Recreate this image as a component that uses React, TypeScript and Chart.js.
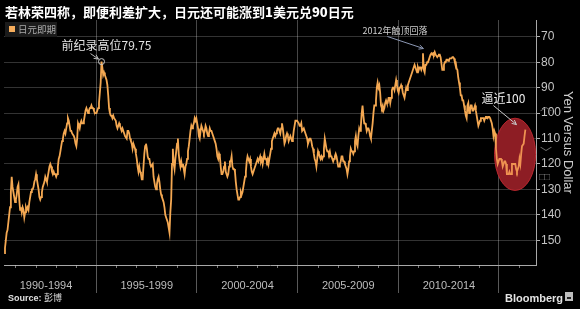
import React, { useEffect, useRef } from 'react';
import { Chart, registerables } from 'chart.js';

Chart.register(...registerables);

// ---------- data ----------
const firstYear = 1990;
const firstMonth = 6; // June 1990
// USD/JPY spot (yen per dollar), two readings per month (early / late), Jun 1990 - Apr 2016
const yenSpot: number[] = [
  // 1990 Jun-Dec
  155, 153, 150, 147, 146, 143, 140, 137, 131, 125, 129, 131, 133, 135,
  // 1991
  134, 132, 129, 128, 134, 138, 137, 139, 137, 138, 141, 139,
  137, 138, 137, 138, 135, 133, 131, 130, 130, 129, 127, 126,
  // 1992
  124, 126, 128, 130, 133, 134, 133, 131, 129, 128, 127, 125,
  126, 127, 125, 123, 121, 120, 121, 123, 124, 123, 124, 124,
  // 1993
  125, 124, 121, 118, 117, 115, 113, 111, 110, 108, 107, 108,
  106, 104, 102, 103, 105, 107, 107, 108, 108, 109, 110, 112,
  // 1994
  113, 110, 104, 105, 106, 104, 103, 104, 104, 103, 101, 99,
  98, 99, 100, 99, 98, 98, 97, 98, 98, 99, 100, 100,
  // 1995
  100, 99, 98, 96, 92, 88, 79.75, 82, 85, 84, 85, 86,
  87, 89, 93, 98, 100, 101, 101, 102, 101, 102, 102, 103,
  // 1996
  105, 106, 105, 104, 105, 106, 107, 106, 107, 108, 109, 109,
  110, 107, 107, 108, 110, 111, 112, 114, 112, 113, 114, 116,
  // 1997
  118, 121, 123, 121, 123, 124, 126, 126, 121, 116, 113, 112,
  114, 117, 118, 118, 120, 121, 121, 120, 125, 127, 129, 130,
  // 1998
  128, 126, 125, 127, 130, 132, 133, 134, 135, 137, 140, 141,
  141, 143, 145, 147, 139, 134, 120, 114, 120, 122, 118, 115,
  // 1999
  112, 110, 116, 119, 121, 119, 121, 120, 122, 124, 121, 120,
  118, 115, 113, 110, 107, 105, 106, 105, 104, 102, 103, 102,
  // 2000
  104, 106, 109, 110, 107, 105, 106, 107, 108, 107, 105, 106,
  108, 109, 108, 106, 107, 107, 108, 109, 109, 111, 112, 114,
  // 2001
  117, 118, 116, 117, 121, 124, 124, 123, 121, 119, 123, 124,
  125, 124, 121, 119, 119, 117, 121, 122, 122, 123, 127, 130,
  // 2002
  132, 134, 134, 133, 131, 132, 131, 129, 127, 125, 123, 119,
  117, 118, 119, 118, 121, 123, 124, 123, 122, 121, 121, 119,
  // 2003
  118, 119, 118, 117, 119, 118, 120, 118, 116, 118, 118, 119,
  118, 120, 118, 116, 114, 111, 110, 109, 108, 109, 108, 107,
  // 2004
  106, 106, 107, 108, 106, 104, 106, 109, 112, 111, 109, 108,
  109, 111, 110, 109, 110, 111, 110, 107, 105, 103, 103, 103,
  // 2005
  103, 104, 105, 105, 104, 107, 107, 106, 107, 108, 109, 110,
  112, 111, 110, 110, 111, 113, 114, 116, 118, 119, 121, 118,
  // 2006
  115, 116, 117, 118, 117, 118, 117, 114, 110, 112, 114, 115,
  115, 116, 115, 117, 117, 118, 119, 118, 117, 116, 117, 119,
  // 2007
  121, 121, 120, 119, 117, 117, 119, 119, 120, 121, 122, 124,
  122, 119, 117, 114, 115, 115, 116, 115, 111, 109, 112, 113,
  // 2008
  109, 106, 107, 105, 100, 97, 101, 104, 104, 105, 107, 106,
  106, 107, 109, 110, 107, 104, 100, 97, 97, 95, 90, 88,
  // 2009
  90, 89, 92, 97, 98, 97, 99, 98, 96, 95, 96, 96,
  94, 94, 96, 94, 91, 90, 90, 91, 89, 87, 89, 91,
  // 2010
  92, 90, 90, 89, 90, 92, 93, 94, 92, 90, 91, 89,
  88, 87, 86, 85, 84, 84, 82, 81, 82, 83, 84, 82,
  // 2011
  83, 82, 82, 83, 82, 76.5, 83, 84, 81, 81, 80, 80,
  80, 78, 77, 76.5, 77, 76.5, 77, 76, 77, 77.5, 78, 77.5,
  // 2012
  77, 77, 78, 80.5, 83, 83, 81, 80, 80, 79, 79, 79.5,
  79, 78.5, 78.5, 78.5, 78, 78, 78.5, 80, 80, 82.5, 83, 86,
  // 2013
  88, 90, 93, 93, 95, 95, 97, 99, 101, 102, 97, 96,
  100, 99, 97, 97, 99, 99, 98, 97, 99, 101, 103, 105,
  // 2014
  104, 103, 102, 102, 102, 102, 103, 102, 101.5, 101.5, 102, 101.5,
  101.5, 102, 102, 104, 106, 109, 107, 108, 114, 118, 120, 119,
  // 2015
  118, 118, 118, 119, 121, 120, 119, 119, 120, 124, 124, 124,
  123, 124, 124, 120, 120, 120, 120, 120, 122, 123, 122, 121,
  // 2016 Jan-Apr
  118, 120, 116, 113, 113, 112, 109, 106.5,
];

const bandEdges = [1995, 2000, 2005, 2010, 2015];
const bandLabels = ['1990-1994', '1995-1999', '2000-2004', '2005-2009', '2010-2014'];
const minorTickYears = [1991, 1992, 1993, 1994, 1996, 1997, 1998, 1999, 2001, 2002, 2003, 2004, 2006, 2007, 2008, 2009, 2011, 2012, 2013, 2014, 2016];
const yTickValues = [70, 80, 90, 100, 110, 120, 130, 140, 150];

const recordHigh = { x: 1995 + 3.25 / 12, y: 79.75 };
const top2012 = { x: 2011.3, y: 75 };
const near100 = { x: 2015.87, y: 104.5 };
const focusZone = { x: 2015.8, y: 116.2, dx: 1.02, dy: 14.2 };

const titleMain = '若林荣四称，即便利差扩大，日元还可能涨到';
const titleTail = ['1', '美元兑', '90', '日元'];

const CJK = '"Noto Sans CJK SC", "Noto Sans", sans-serif';
const LATIN = '"Liberation Sans", Arial, sans-serif';

function arrow(ctx: CanvasRenderingContext2D, x1: number, y1: number, x2: number, y2: number, color: string) {
  ctx.strokeStyle = color;
  ctx.lineWidth = 1;
  ctx.beginPath();
  ctx.moveTo(x1, y1);
  ctx.lineTo(x2, y2);
  ctx.stroke();
  const a = Math.atan2(y2 - y1, x2 - x1);
  const h = 5;
  ctx.beginPath();
  ctx.moveTo(x2 - h * Math.cos(a - 0.45), y2 - h * Math.sin(a - 0.45));
  ctx.lineTo(x2, y2);
  ctx.lineTo(x2 - h * Math.cos(a + 0.45), y2 - h * Math.sin(a + 0.45));
  ctx.stroke();
}

function zoneGeom(chart: any) {
  const xs = chart.scales.x, ys = chart.scales.y;
  const cx = xs.getPixelForValue(focusZone.x);
  const cy = ys.getPixelForValue(focusZone.y);
  const rx = Math.abs(xs.getPixelForValue(focusZone.x + focusZone.dx) - cx);
  const ry = Math.abs(ys.getPixelForValue(focusZone.y + focusZone.dy) - cy);
  return { cx, cy, rx, ry };
}

const decorPlugin = {
  id: 'decor',
  beforeDatasetsDraw(chart: any) {
    const { ctx } = chart;
    const { cx, cy, rx, ry } = zoneGeom(chart);
    ctx.save();
    ctx.fillStyle = 'rgb(122, 22, 26)';
    ctx.beginPath();
    ctx.ellipse(cx, cy, rx, ry, 0, 0, Math.PI * 2);
    ctx.fill();
    ctx.strokeStyle = 'rgba(190, 40, 45, 0.9)';
    ctx.lineWidth = 1;
    ctx.stroke();
    ctx.restore();
  },
  afterDatasetsDraw(chart: any) {
    const { ctx, scales, chartArea } = chart;
    const xs = scales.x, ys = scales.y;
    ctx.save();
    const { cx, cy, rx, ry } = zoneGeom(chart);
    ctx.fillStyle = 'rgba(220, 60, 80, 0.2)';
    ctx.beginPath();
    ctx.ellipse(cx, cy, rx, ry, 0, 0, Math.PI * 2);
    ctx.fill();

    // minor yearly ticks
    ctx.strokeStyle = 'rgba(200,200,200,0.6)';
    ctx.lineWidth = 1;
    minorTickYears.forEach((yr) => {
      const px = Math.round(xs.getPixelForValue(yr)) + 0.5;
      ctx.beginPath();
      ctx.moveTo(px, chartArea.bottom);
      ctx.lineTo(px, chartArea.bottom + 3);
      ctx.stroke();
    });

    // record high marker
    const px = xs.getPixelForValue(recordHigh.x);
    const py = ys.getPixelForValue(recordHigh.y);
    ctx.strokeStyle = '#c8c8c8';
    ctx.lineWidth = 1;
    ctx.beginPath();
    ctx.arc(px, py, 3, 0, Math.PI * 2);
    ctx.stroke();
    arrow(ctx, px - 11, py - 8, px - 3, py - 2.5, '#bdbdbd');
    ctx.fillStyle = '#e2e2e2';
    ctx.textBaseline = 'middle';
    ctx.textAlign = 'left';
    ctx.font = `12px ${CJK}`;
    ctx.fillText('前纪录高位79.75', px - 40, py - 16);

    // 2012 top
    const tx = xs.getPixelForValue(top2012.x);
    const ty = ys.getPixelForValue(top2012.y);
    arrow(ctx, tx - 37, ty - 13, tx - 1, ty - 1, '#8c98b4');
    ctx.fillStyle = '#cfcfcf';
    ctx.font = `9px ${CJK}`;
    ctx.fillText('2012年触顶回落', tx - 62, ty - 19);

    // near 100
    const nx = xs.getPixelForValue(near100.x);
    const ny = ys.getPixelForValue(near100.y);
    arrow(ctx, nx - 23, ny - 19, nx, ny, '#c8c8c8');
    ctx.fillStyle = '#eeeeee';
    ctx.font = `12px ${CJK}`;
    ctx.fillText('逼近100', nx - 35, ny - 26);
    ctx.restore();
  },
};

export default function App() {
  const ref = useRef<HTMLCanvasElement>(null);

  useEffect(() => {
    document.body.style.margin = '0';
    document.body.style.background = '#000';
    const canvas = ref.current;
    if (!canvas) return;
    const points = yenSpot.map((v, i) => ({ x: firstYear + (firstMonth - 1 + i * 0.5 + 0.25) / 12, y: v }));
    const chart = new Chart(canvas, {
      type: 'line',
      data: {
        datasets: [
          {
            label: '日元即期',
            data: points,
            borderColor: '#f4a852',
            borderWidth: 1.8,
            pointRadius: 0,
            tension: 0,
            fill: false,
          },
        ],
      },
      options: {
        animation: false,
        responsive: false,
        maintainAspectRatio: false,
        devicePixelRatio: 1,
        layout: { padding: { left: 4, top: 20, right: 0, bottom: 0 } },
        plugins: { legend: { display: false }, tooltip: { enabled: false }, title: { display: false } },
        scales: {
          x: {
            type: 'linear',
            min: 1990.43,
            max: 2016.84,
            afterBuildTicks: (axis: any) => {
              axis.ticks = bandEdges.map((v) => ({ value: v }));
            },
            afterFit: (s: any) => {
              s.height = 44;
            },
            ticks: {
              callback: (_v: any, i: number) => bandLabels[i],
              labelOffset: -50,
              padding: -14,
              maxRotation: 0,
              autoSkip: false,
              color: '#bdbdbd',
              font: { family: LATIN, size: 11 },
            },
            grid: {
              color: 'rgba(255,255,255,0.28)',
              tickColor: 'rgba(255,255,255,0.35)',
              tickLength: 28,
              lineWidth: 1,
            },
            border: { color: '#a8a8a8', width: 1 },
          },
          y: {
            type: 'linear',
            position: 'right',
            reverse: true,
            min: 63.4,
            max: 159.7,
            afterBuildTicks: (axis: any) => {
              axis.ticks = yTickValues.map((v) => ({ value: v }));
            },
            afterFit: (s: any) => {
              s.width = 44;
            },
            ticks: {
              color: '#c4c4c4',
              padding: 1,
              font: { family: LATIN, size: 12 },
            },
            grid: {
              color: 'rgba(255,255,255,0.2)',
              tickColor: '#b0b0b0',
              tickLength: 4,
              lineWidth: 1,
            },
            border: { color: '#a8a8a8', width: 1 },
            title: {
              display: true,
              text: 'Yen Versus Dollar',
              color: '#cccccc',
              font: { family: LATIN, size: 13 },
              padding: { top: 5, bottom: 0 },
            },
          },
        },
      },
      plugins: [decorPlugin],
    } as any);
    return () => chart.destroy();
  }, []);

  return (
    <div style={{ position: 'relative', width: 580, height: 309, background: '#000', overflow: 'hidden' }}>
      <canvas ref={ref} width={580} height={309} style={{ position: 'absolute', left: 0, top: 0, width: 580, height: 309 }} />
      <div
        style={{
          position: 'absolute', left: 5, top: 4, whiteSpace: 'nowrap', color: '#fff',
          fontFamily: CJK, fontSize: 13, lineHeight: '16px', fontWeight: 700,
        }}
      >
        {titleMain}
        <b style={{ fontWeight: 800 }}>{titleTail[0]}</b>
        {titleTail[1]}
        <b style={{ fontWeight: 800 }}>{titleTail[2]}</b>
        {titleTail[3]}
      </div>
      <div style={{ position: 'absolute', left: 5, top: 22, width: 52, height: 15, background: '#1b1b1b' }}>
        <div style={{ position: 'absolute', left: 4, top: 4, width: 6, height: 6, background: '#f6ad5c' }} />
        <div style={{ position: 'absolute', left: 13, top: 1, fontFamily: CJK, fontSize: 9.5, lineHeight: '13px', color: '#a9a9a9', whiteSpace: 'nowrap' }}>日元即期</div>
      </div>
      <div style={{ position: 'absolute', left: 540, top: 100, color: '#6f6f6f', fontFamily: CJK, fontSize: 12, lineHeight: '12px' }}>︿</div>
      <div style={{ position: 'absolute', left: 540, top: 146, color: '#6f6f6f', fontFamily: CJK, fontSize: 12, lineHeight: '12px' }}>﹀</div>
      <div style={{ position: 'absolute', left: 539, top: 172, color: '#6f6f6f', fontFamily: LATIN, fontSize: 10, lineHeight: '10px', letterSpacing: -1 }}>□□</div>
      <div style={{ position: 'absolute', left: 8, top: 292, whiteSpace: 'nowrap', color: '#e0e0e0', fontSize: 9, lineHeight: '12px' }}>
        <span style={{ fontFamily: LATIN, fontWeight: 700 }}>Source: </span>
        <span style={{ fontFamily: CJK }}>彭博</span>
      </div>
      <div style={{ position: 'absolute', left: 505, top: 291, whiteSpace: 'nowrap', color: '#e4e4e4', fontFamily: LATIN, fontWeight: 700, fontSize: 11, lineHeight: '14px' }}>
        Bloomberg
      </div>
      <div style={{ position: 'absolute', left: 565, top: 292, width: 8, height: 9, background: '#bdbdbd' }}>
        <div style={{ position: 'absolute', left: 2, top: 5, width: 4, height: 2, background: '#222' }} />
      </div>
    </div>
  );
}
